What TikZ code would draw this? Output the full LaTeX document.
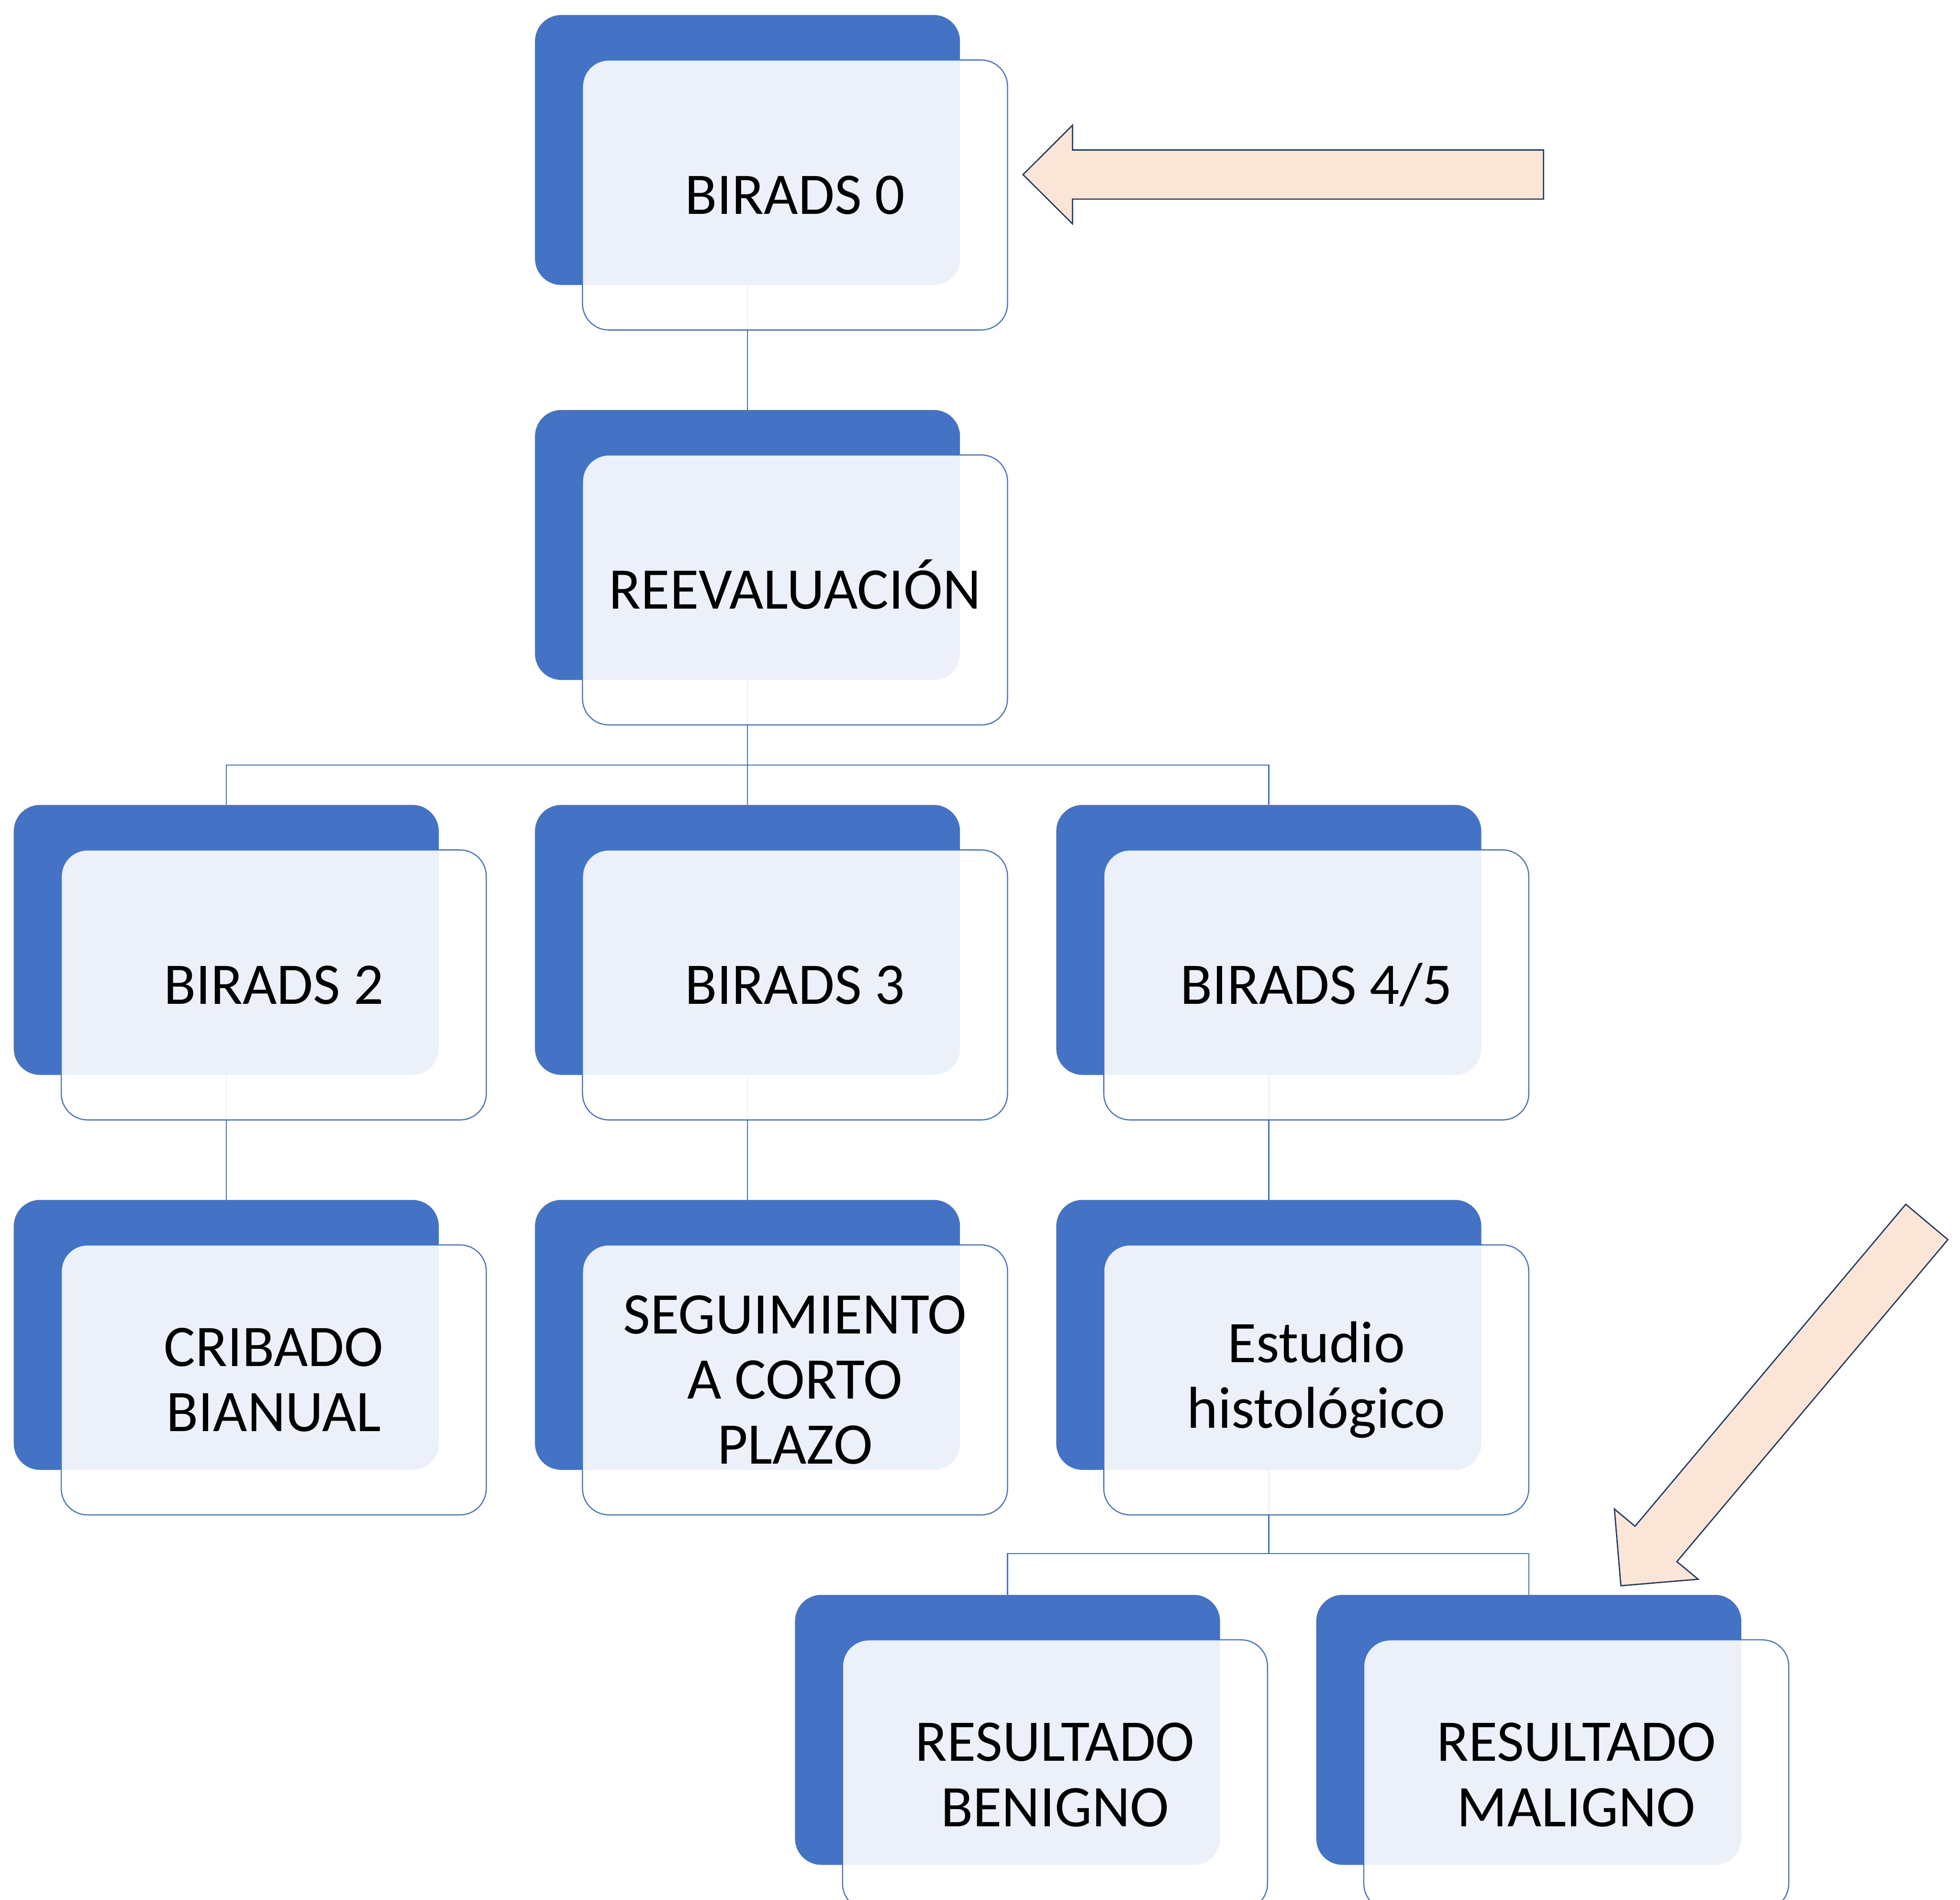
\documentclass[tikz,border=0pt]{standalone}
\usepackage{fontspec}
\setmainfont{Carlito}
\pgfdeclarelayer{background}
\pgfsetlayers{background,main}
\definecolor{accent}{HTML}{4472C4}
\definecolor{peach}{HTML}{FBE5D6}
\definecolor{navy}{HTML}{203864}
\tikzset{
  backbox/.style={fill=accent, rounded corners=21pt, minimum width=340pt, minimum height=216pt, inner sep=0pt, outer sep=0pt},
  frontbox/.style={draw=accent, line width=0.9pt, fill=white, fill opacity=0.9, text opacity=1, rounded corners=21pt, minimum width=340pt, minimum height=216pt, inner sep=0pt, outer sep=0pt, align=center, font=\fontsize{47.2}{52.2}\selectfont},
  conn/.style={draw=accent, line width=0.9pt},
  blockarrow/.style={fill=peach, draw=navy, line width=1pt, line join=miter}
}
\begin{document}
\begin{tikzpicture}[x=1pt,y=-1pt]
\useasboundingbox (0,0) rectangle (1568,1520);
\clip (0,0) rectangle (1568,1520);
% row 1
\node[backbox] (b0k) at (598,120) {};
\node[frontbox] (b0) at (636,156) {BIRADS 0};
% row 2
\node[backbox] (reevk) at (598,436) {};
\node[frontbox] (reev) at (636,472) {REEVALUACI\smash{Ó}N};
% row 3
\node[backbox] (b2k) at (181,752) {};
\node[frontbox] (b2) at (219,788) {BIRADS 2};
\node[backbox] (b3k) at (598,752) {};
\node[frontbox] (b3) at (636,788) {BIRADS 3};
\node[backbox] (b45k) at (1015,752) {};
\node[frontbox] (b45) at (1053,788) {BIRADS 4/5};
% row 4
\node[backbox] (cribk) at (181,1068) {};
\node[frontbox] (crib) at (219,1104) {CRIBADO\\BIANUAL};
\node[backbox] (segk) at (598,1068) {};
\node[frontbox] (seg) at (636,1104) {SEGUIMIENTO\\A CORTO\\PLAZO};
\node[backbox] (estk) at (1015,1068) {};
\node[frontbox] (est) at (1053,1104) {Estudio\\histológico};
% row 5
\node[backbox] (benk) at (806,1384) {};
\node[frontbox] (ben) at (844,1420) {RESULTADO\\BENIGNO};
\node[backbox] (malk) at (1223,1384) {};
\node[frontbox] (mal) at (1261,1420) {RESULTADO\\MALIGNO};
% connectors
\coordinate (j1) at (598,612);
\coordinate (j2) at (1015,1243);
\begin{pgfonlayer}{background}
\draw[conn] (b0k.south) -- (reevk.north);
\draw[conn] (reevk.south) -- (b3k.north);
\draw[conn] (b2k.north) |- (j1) -| (b45k.north);
\draw[conn] (b2k.south) -- (cribk.north);
\draw[conn] (b3k.south) -- (segk.north);
\draw[conn] (b45k.south) -- (estk.north);
\draw[conn] (estk.south) -- (j2);
\draw[conn] (benk.north) |- (j2) -| (malk.north);
\end{pgfonlayer}
% block arrows
\draw[blockarrow] (818.4,139.7) -- (858,100.2) -- (858,120) -- (1234.8,120) -- (1234.8,159.3) -- (858,159.3) -- (858,179.1) -- cycle;
\draw[blockarrow] (1524.6,963.5) -- (1558.3,991.8) -- (1341.5,1249.4) -- (1358.5,1263.5) -- (1296.7,1268.7) -- (1291.5,1207.3) -- (1308.0,1221.1) -- cycle;
\end{tikzpicture}
\end{document}
